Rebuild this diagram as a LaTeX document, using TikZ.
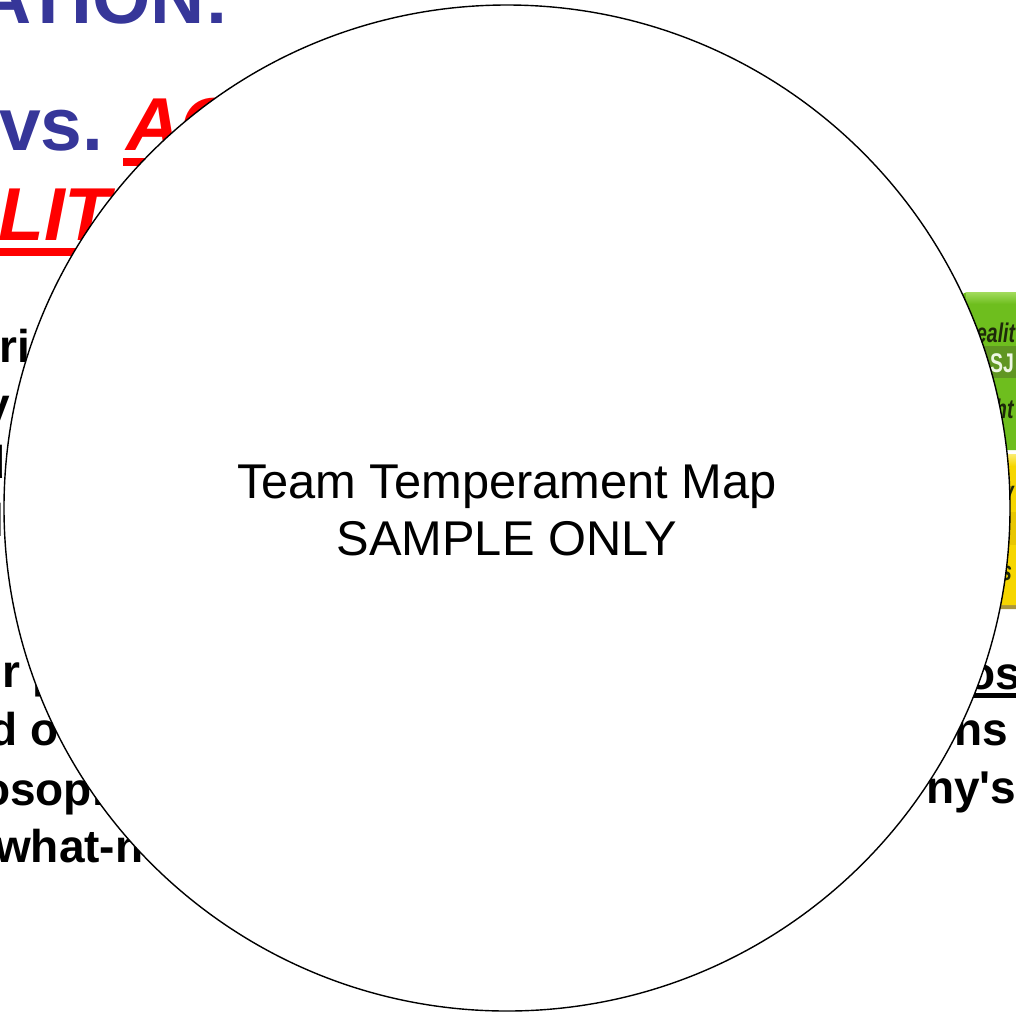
\documentclass[tikz,border=0pt]{standalone}
\usepackage{fontspec}
\setmainfont{Liberation Sans}
\definecolor{titleblue}{RGB}{54,54,153}
\definecolor{titlered}{RGB}{255,0,0}
\definecolor{boxgreen}{RGB}{110,190,30}
\definecolor{boxgreenlight}{RGB}{160,218,90}
\definecolor{boxgreendark}{RGB}{96,150,34}
\definecolor{boxyellow}{RGB}{246,214,0}
\definecolor{boxyellowlight}{RGB}{250,236,110}
\definecolor{boxyellowdark}{RGB}{232,198,0}
\definecolor{boxyellowedge}{RGB}{170,150,60}
\definecolor{tagtext}{RGB}{30,40,10}
\begin{document}
\begin{tikzpicture}[x=1pt,y=-1pt,
  headline/.style={anchor=base west, inner sep=0pt,
    font=\bfseries\fontsize{75}{90}\selectfont},
  bodyline/.style={anchor=base west, inner sep=0pt,
    font=\bfseries\fontsize{46}{55}\selectfont},
  tagline/.style={anchor=base west, inner sep=0pt, xscale=0.72,
    font=\bfseries\itshape\fontsize{27}{30}\selectfont},
  maptext/.style={anchor=base, inner sep=0pt,
    font=\fontsize{48.8}{58}\selectfont}]
\useasboundingbox (0,0) rectangle (1016,1013);
\clip (0,0) rectangle (1016,1013);

% --- slide behind the map: heading ---
\node[headline, text=titleblue] (head1) at (-23,23) {ATION:};
\node[headline, text=titleblue] (head2) at (-1,150) {vs.};
\node[headline, text=titlered, font=\bfseries\itshape\fontsize{75}{90}\selectfont]
  (head3) at (126,150) {AC};
\fill[titlered] (123,158) rectangle (260,166);
\node[headline, text=titlered, font=\bfseries\itshape\fontsize{75}{90}\selectfont]
  (head4) at (-2,240) {LIT};
\fill[titlered] (0,248) rectangle (140,256);

% --- slide behind the map: body text, left ---
\node[bodyline] (l1) at (-1,362) {ri};
\node[bodyline] (l2) at (-16,420) {y};
\node[bodyline] (l3) at (-23,478) {d};
\node[bodyline] (l4) at (-9,536) {l};
\node[bodyline] (l5) at (2,687) {r p};
\node[bodyline] (l6) at (-11,745) {d o};
\node[bodyline] (l7) at (-18,805) {osoph};
\node[bodyline] (l8) at (-5,862) {what-n};

% --- slide behind the map: body text, right ---
\node[bodyline] (r1) at (939,689) {pos};
\fill[black] (940,693) rectangle (1030,698);
\node[bodyline] (r2) at (954,745) {ns};
\node[bodyline] (r3) at (926,803) {ny\textquotesingle s};

% --- temperament tags, right edge ---
\fill[boxgreen, rounded corners=5pt] (962,292) rectangle (1040,450);
\shade[top color=boxgreenlight, bottom color=boxgreen] (966,292.5) rectangle (1040,304);
\fill[boxgreendark] (962,346) rectangle (1040,378);
\node[tagline, text=tagtext] (g1) at (976,342) {ealit};
\node[tagline, text=white!88!boxgreen, font=\bfseries\fontsize{27}{30}\selectfont] (g2) at (990,372) {SJ};
\node[tagline, text=tagtext] (g3) at (995,418) {ht};

\fill[boxyellowedge, rounded corners=5pt] (962,454) rectangle (1040,609);
\fill[boxyellow, rounded corners=5pt] (962,454) rectangle (1040,605);
\shade[top color=boxyellowlight, bottom color=boxyellow] (966,454.5) rectangle (1040,466);
\fill[boxyellowdark] (962,512) rectangle (1040,545);
\node[tagline, text=tagtext] (y1) at (1003,500) {y};
\node[tagline, text=tagtext] (y2) at (1001,580) {s};

% --- the map disc ---
\node[draw=black, fill=white, circle, line width=1.4pt, inner sep=0pt,
  minimum size=1006pt] (map) at (507,508) {};
\node[maptext] (title) at (507,498) {Team Temperament Map};
\node[maptext] (sample) at (507,555) {SAMPLE ONLY};
\end{tikzpicture}
\end{document}
